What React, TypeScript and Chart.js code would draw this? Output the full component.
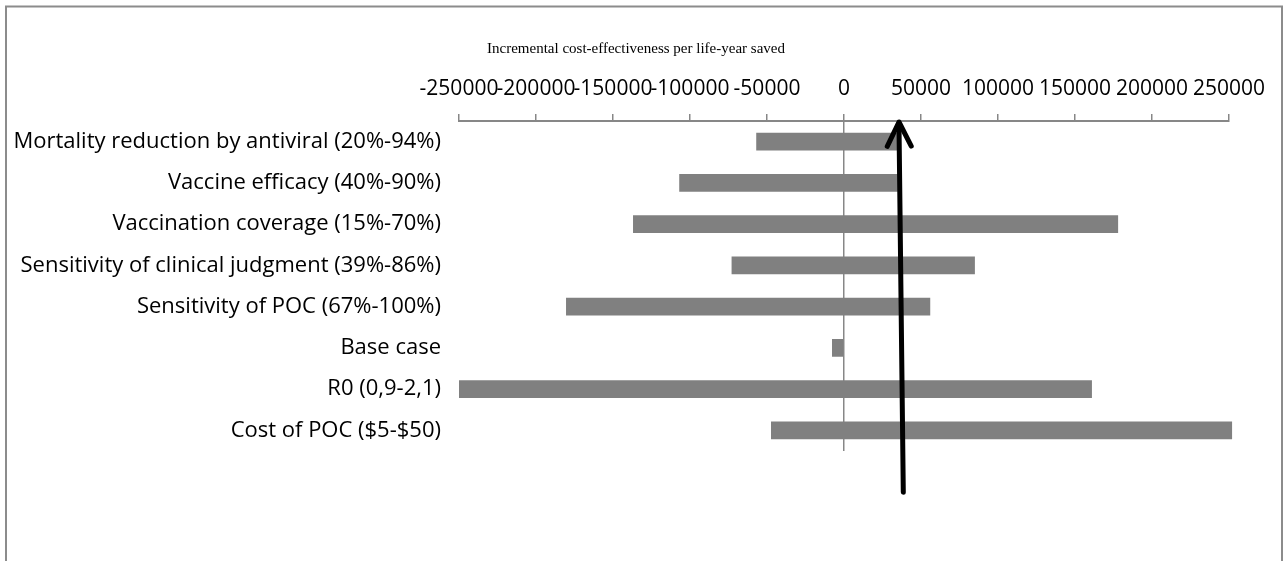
import React, { useEffect, useRef } from "react";
import { Chart, registerables } from "chart.js";

Chart.register(...registerables);

// One-way sensitivity analysis (tornado): range of the ICER for each parameter
const categories = [
  "Mortality reduction by antiviral (20%-94%)",
  "Vaccine efficacy (40%-90%)",
  "Vaccination coverage (15%-70%)",
  "Sensitivity of clinical judgment (39%-86%)",
  "Sensitivity of POC (67%-100%)",
  "Base case",
  "R0 (0,9-2,1)",
  "Cost of POC ($5-$50)",
];
const lowValues = [-57000, -107000, -137000, -73000, -180500, -7800, -250000, -47400];
const highValues = [35000, 35000, 178000, 85000, 56000, 0, 161000, 252000];

const axisMin = -250000;
const axisMax = 250000;
const axisStep = 50000;
const axisTitle = "Incremental cost-effectiveness per life-year saved";

// Arrow marking the threshold on the value axis: value at its tip and at its tail
const arrowValues = [35700, 38500];
const arrowTailCategory = 8.5;

const GREY = "#878787";
const LABEL_FONT = "'Open Sans', 'Noto Sans', sans-serif";

const framePlugin = {
  id: "frame",
  beforeDraw(chart: any) {
    const { ctx } = chart;
    ctx.save();
    ctx.fillStyle = "#ffffff";
    ctx.fillRect(0, 0, chart.width, chart.height);
    ctx.strokeStyle = "#8c8c8c";
    ctx.lineWidth = 2;
    ctx.strokeRect(6, 6.5, chart.width - 11, chart.height + 40);
    ctx.restore();
  },
};

const axisTitlePlugin = {
  id: "axisTitle",
  afterDraw(chart: any) {
    const { ctx, chartArea } = chart;
    ctx.save();
    ctx.font = "15px 'Liberation Serif', 'DejaVu Serif', serif";
    ctx.fillStyle = "#000";
    ctx.textAlign = "center";
    ctx.textBaseline = "alphabetic";
    ctx.fillText(axisTitle, chartArea.left + 177, chartArea.top - 68);
    ctx.restore();
  },
};

const arrowPlugin = {
  id: "thresholdArrow",
  afterDatasetsDraw(chart: any) {
    const { ctx } = chart;
    const x = chart.scales.x;
    const y = chart.scales.y;
    const tipX = x.getPixelForValue(arrowValues[0]);
    const tipY = chart.chartArea.top + 1;
    const tailX = x.getPixelForValue(arrowValues[1]);
    const tailY = y.getPixelForValue(arrowTailCategory);
    const ang = Math.atan2(tipY - tailY, tipX - tailX);
    const head = 27;
    const spread = 0.46;
    ctx.save();
    ctx.strokeStyle = "#000";
    ctx.lineWidth = 5;
    ctx.lineCap = "round";
    ctx.lineJoin = "round";
    ctx.beginPath();
    ctx.moveTo(tailX, tailY);
    ctx.lineTo(tipX, tipY + 2);
    ctx.stroke();
    ctx.beginPath();
    ctx.moveTo(tipX - head * Math.cos(ang - spread), tipY - head * Math.sin(ang - spread));
    ctx.lineTo(tipX, tipY);
    ctx.lineTo(tipX - head * Math.cos(ang + spread), tipY - head * Math.sin(ang + spread));
    ctx.stroke();
    ctx.restore();
  },
};

export default function App() {
  const canvasRef = useRef<HTMLCanvasElement | null>(null);

  useEffect(() => {
    if (!canvasRef.current) return;
    const chart = new Chart(canvasRef.current, {
      type: "bar",
      data: {
        labels: categories,
        datasets: [
          {
            data: lowValues.map((lo, i) => [lo, highValues[i]]) as any,
            backgroundColor: "#808080",
            borderWidth: 0,
            categoryPercentage: 1,
            barPercentage: 0.43,
            clip: false as any,
          },
        ],
      },
      options: {
        indexAxis: "y",
        responsive: false,
        animation: false,
        layout: { padding: { left: 0, top: 0, right: 58, bottom: 110 } },
        plugins: { legend: { display: false }, tooltip: { enabled: false } },
        scales: {
          x: {
            position: "top",
            min: axisMin,
            max: axisMax,
            afterFit(scale: any) {
              scale.height = 121;
            },
            ticks: {
              stepSize: axisStep,
              autoSkip: false,
              maxRotation: 0,
              minRotation: 0,
              padding: 12,
              color: "#000",
              font: { family: LABEL_FONT, size: 21 },
              callback: (v: any) => String(v),
            },
            grid: {
              drawTicks: true,
              tickLength: 7,
              tickWidth: 1.5,
              tickColor: GREY,
              lineWidth: 1.5,
              color: (ctx: any) => (ctx.tick && ctx.tick.value === 0 ? GREY : "rgba(0,0,0,0)"),
            },
            border: { display: true, color: GREY, width: 2 },
          },
          y: {
            afterFit(scale: any) {
              scale.width = 459;
            },
            ticks: {
              padding: 18,
              color: "#000",
              font: { family: LABEL_FONT, size: 22 },
            },
            grid: { display: false, drawTicks: false },
            border: { display: false },
          },
        },
      },
      plugins: [framePlugin, axisTitlePlugin, arrowPlugin],
    });
    return () => chart.destroy();
  }, []);

  return (
    <div style={{ position: "absolute", left: 0, top: 0, width: 1287, height: 561, overflow: "hidden" }}>
      <canvas ref={canvasRef} width={1287} height={561} style={{ display: "block", width: 1287, height: 561 }} />
    </div>
  );
}
